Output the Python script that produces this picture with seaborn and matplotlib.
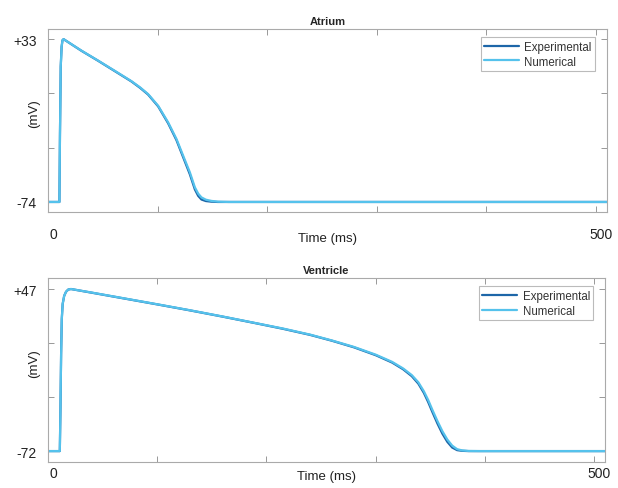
import numpy as np
import pandas as pd
import matplotlib
matplotlib.use("Agg")
import matplotlib.pyplot as plt
import matplotlib.transforms as mtransforms
import seaborn as sns

# ---- data ----
atrium_t = [0, 10.4, 10.9, 11.6, 12.4, 13.2, 14.2, 30.4, 45.7, 60.9, 76.1, 84, 91.3, 100.5,
            109.6, 117.2, 123.3, 129.4, 134, 137, 140, 144, 149, 155, 165, 510]
atrium_num = [-74, -74, -30, 15, 28, 32.3, 33, 25.5, 18.9, 12.2, 5.4, 1.3, -3.1, -10.8,
              -21.7, -32.6, -43.6, -54.5, -64.4, -68.5, -71, -72.5, -73.3, -73.8, -74, -74]
atrium_exp = [-74, -74, -30, 15, 28, 32.3, 33, 25.4, 18.8, 12.0, 5.2, 1.0, -3.4, -11.2,
              -22.3, -33.4, -44.6, -55.8, -65.8, -70, -72.4, -73.4, -73.8, -74, -74, -74]

ventricle_t = [0, 10.8, 11.4, 12, 12.6, 13.4, 14.8, 16.5, 18.5, 21, 40, 70, 100, 130, 160, 190,
               215, 240, 260, 280, 300, 315, 325, 333, 339, 344, 348, 352, 356.5, 361, 365.5,
               370, 374.5, 379, 385, 395, 510]
ventricle_num = [-72, -72, -40, 0, 25, 36, 42, 45, 46.6, 47, 44.4, 40.1, 35.8, 31.4, 26.8, 22,
                 18, 13.5, 9.2, 4.5, -1.2, -6.5, -11.3, -16.2, -21.5, -28, -34.5, -42, -50, -57.4, -63.5,
                 -68, -70.6, -71.5, -71.9, -72, -72]
ventricle_exp = [-72, -72, -40, 0, 25, 36, 42, 45, 46.6, 47, 44.3, 40, 35.7, 31.3, 26.7, 21.9,
                 17.8, 13.3, 9, 4.2, -1.6, -7, -11.9, -17, -22.5, -29.2, -36, -43.6, -51.8, -59.2, -65.2,
                 -69.4, -71.3, -71.8, -72, -72, -72]

panels = [
    ("Atrium", atrium_t, atrium_exp, atrium_num, (-80.6, 39.6), [33, -2.67, -38.33, -74],
     "+33", "-74", 11, -0.11, 0.546),
    ("Ventricle", ventricle_t, ventricle_exp, ventricle_num, (-80, 55), [47, 7.33, -32.33, -72],
     "+47", "-72", 3, -0.045, 0.54),
]

sns.set_style("ticks")
plt.rcParams['font.family'] = ['Liberation Sans', 'DejaVu Sans']

fig = plt.figure(figsize=(6.18, 4.89), dpi=100)
axes = [fig.add_axes([0.0777, 0.5644, 0.9045, 0.374]),
        fig.add_axes([0.0777, 0.0532, 0.9015, 0.376])]

colors = {"Experimental": "#1d66a8", "Numerical": "#55c2ec"}

for ax, (title, t, exp, num, ylim, yt, top_lbl, bot_lbl, xpad, xlab_y, ylab_y) in zip(axes, panels):
    df = pd.concat([
        pd.DataFrame({"t": t, "v": exp, "series": "Experimental"}),
        pd.DataFrame({"t": t, "v": num, "series": "Numerical"}),
    ])
    sns.lineplot(data=df, x="t", y="v", hue="series", palette=colors, ax=ax,
                 linewidth=1.6, sort=False, estimator=None)
    ax.set_xlim(0, 510)
    ax.set_ylim(*ylim)
    ax.set_xticks([0, 100, 200, 300, 400, 500])
    ax.set_xticklabels(["0", "", "", "", "", "500"])
    ax.set_yticks(yt)
    ax.set_yticklabels([top_lbl, "", "", bot_lbl])
    ax.tick_params(direction="in", length=4, width=0.6, color="#888888",
                   top=True, right=True, labelsize=10, labelcolor="#222222")
    ax.tick_params(axis="x", pad=xpad)
    ax.tick_params(axis="y", pad=8)
    for s in ax.spines.values():
        s.set_visible(True)
        s.set_color("#aaaaaa")
        s.set_linewidth(0.8)
    offset = mtransforms.ScaledTranslation(5 / 100, 0, fig.dpi_scale_trans)
    for lbl in ax.get_xticklabels():
        lbl.set_transform(lbl.get_transform() + offset)
    ax.set_xlabel("Time (ms)", fontsize=9.5, color="#222222")
    ax.xaxis.set_label_coords(0.5, xlab_y)
    ax.set_ylabel("(mV)", fontsize=9.5, color="#222222")
    ax.yaxis.set_label_coords(-0.014, ylab_y)
    ax.set_title(title, fontsize=8, fontweight="bold", pad=4)
    leg = ax.legend(loc="upper right", fontsize=8.3, frameon=True, fancybox=False,
                    handlelength=3.0, handletextpad=0.5, borderpad=0.3, borderaxespad=0,
                    labelspacing=0.25, bbox_to_anchor=(0.979, 0.956))
    leg.get_frame().set_edgecolor("#aaaaaa")
    leg.get_frame().set_linewidth(0.8)
    for txt in leg.get_texts():
        txt.set_color("#333333")

fig.savefig("out.png", dpi=100)
